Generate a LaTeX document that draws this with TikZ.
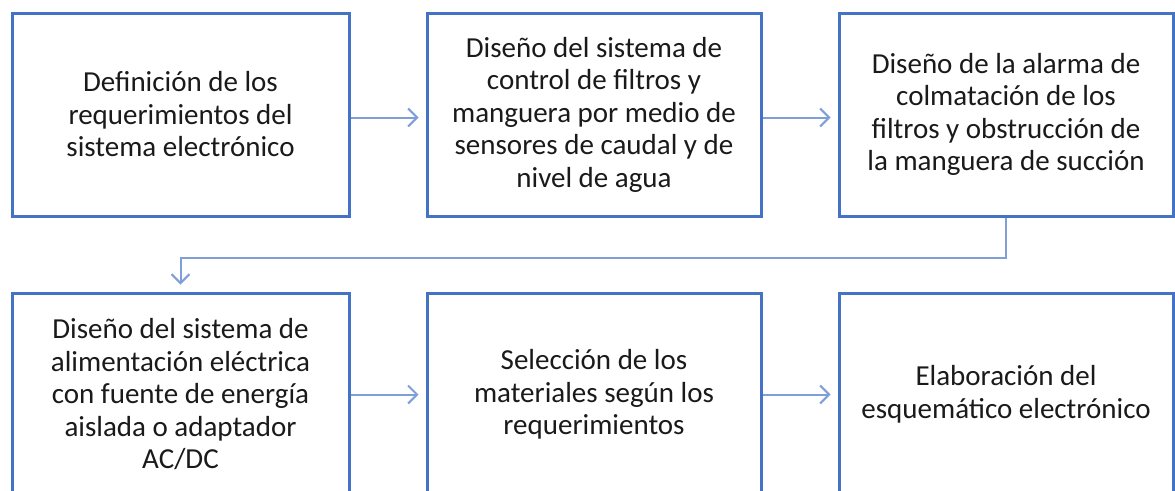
\documentclass[tikz,border=0pt]{standalone}
\usepackage{fontspec}
\setmainfont{Carlito}
\usetikzlibrary{arrows.meta}
\definecolor{boxblue}{HTML}{4472C4}
\definecolor{linkblue}{HTML}{7F9FD8}
\definecolor{txt}{HTML}{1A1A1A}
\tikzset{
  stepbox/.style={draw=boxblue, line width=3pt, fill=white, rectangle, inner sep=0pt,
    minimum height=203pt, align=center, text=txt,
    font=\fontsize{29}{32.5}\selectfont},
  conn/.style={draw=linkblue, line width=2pt,
    -{Straight Barb[length=9pt,width=18pt]}, shorten >=7pt}
}
\begin{document}
\begin{tikzpicture}[x=1pt,y=-1pt]
\useasboundingbox (0,0) rectangle (1175,490);
\clip (0,0) rectangle (1175,490);
\node[stepbox, minimum width=337pt] (b1) at (180.5,114.5)
  {Definición de los\\requerimientos del\\sistema electrónico};
\node[stepbox, minimum width=334pt] (b2) at (594,114.5)
  {Diseño del sistema de\\control de filtros y\\manguera por medio de\\sensores de caudal y de\\nivel de agua};
\node[stepbox, minimum width=334pt] (b3) at (1006,114.5)
  {Diseño de la alarma de\\colmatación de los\\filtros y obstrucción de\\la manguera de succión};
\node[stepbox, minimum width=337pt] (b4) at (180.5,394.5)
  {Diseño del sistema de\\alimentación eléctrica\\con fuente de energía\\aislada o adaptador\\AC/DC};
\node[stepbox, minimum width=334pt] (b5) at (594,394.5)
  {Selección de los\\materiales según los\\requerimientos};
\node[stepbox, minimum width=334pt] (b6) at (1006,394.5)
  {Elaboración del\\esquemático electrónico};
\draw[conn] ([yshift=-3pt]b1.east) -- ([yshift=-3pt]b2.west);
\draw[conn] ([yshift=-3pt]b2.east) -- ([yshift=-3pt]b3.west);
\draw[conn] (b4.east) -- (b5.west);
\draw[conn] (b5.east) -- (b6.west);
\draw[conn] (b3.south) -- ++(0,40) coordinate (elb) -| (b4.north);
\end{tikzpicture}
\end{document}
